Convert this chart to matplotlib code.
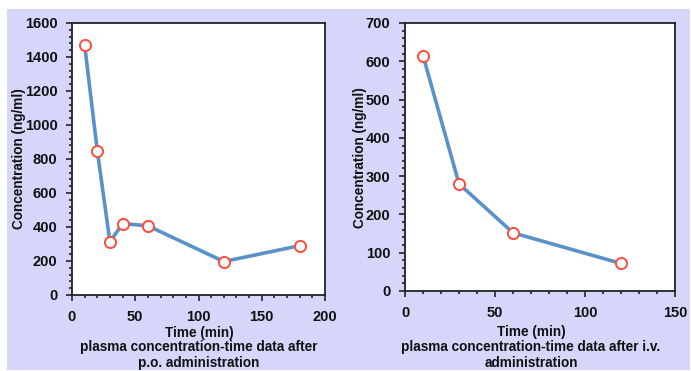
import matplotlib
matplotlib.use("Agg")
import matplotlib.pyplot as plt
from matplotlib.patches import Rectangle
from matplotlib.ticker import MultipleLocator

# Data ------------------------------------------------------------------

po_time = [10, 20, 30, 40, 60, 120, 180]
po_conc = [1470, 848, 312, 420, 407, 197, 290]

iv_time = [10, 30, 60, 120]
iv_conc = [615, 280, 152, 72]

po_caption = "plasma concentration-time data after\np.o. administration"
iv_caption = "plasma concentration-time data after i.v.\nadministration"

# Style -----------------------------------------------------------------

plt.rcParams["font.family"] = ["Liberation Sans", "DejaVu Sans"]
plt.rcParams["font.weight"] = "bold"

W, H = 691, 371
fig = plt.figure(figsize=(W / 100, H / 100), dpi=100)
fig.patch.set_facecolor("white")

# lavender panel behind both plots
fig.add_artist(Rectangle((7 / W, 1 - 370 / H), (690 - 7) / W, (370 - 9) / H,
                         transform=fig.transFigure, facecolor="#d6d6fb",
                         edgecolor="none", zorder=0))

line_color = "#5b91c9"
marker_edge = "#ff4b3c"
fsize = 9.8


def px_axes(l, t, r, b):
    return fig.add_axes([l / W, 1 - b / H, (r - l) / W, (b - t) / H])


def draw_panel(ax, x, y, xmax, xmajor, ymax, ymajor, yminor):
    ax.set_facecolor("white")
    ax.plot(x, y, color=line_color, lw=2.6, zorder=2)
    ax.plot(x, y, ls="none", marker="o", ms=8, mfc="white",
            mec=marker_edge, mew=1.4, zorder=3)
    ax.set_xlim(0, xmax)
    ax.set_ylim(0, ymax)
    ax.xaxis.set_major_locator(MultipleLocator(xmajor))
    ax.xaxis.set_minor_locator(MultipleLocator(10))
    ax.yaxis.set_major_locator(MultipleLocator(ymajor))
    ax.yaxis.set_minor_locator(MultipleLocator(yminor))
    ax.tick_params(which="both", direction="out", color="#222222",
                   width=1.2, labelsize=10.5, labelcolor="#111111")
    ax.tick_params(which="major", length=4.5, pad=6)
    ax.tick_params(which="minor", length=2.5)
    plt.setp(ax.get_xticklabels() + ax.get_yticklabels(), fontweight="bold")
    for s in ax.spines.values():
        s.set_color("#222222")
        s.set_linewidth(1.3)


def label(x, y, txt, rot=0, ls=1.2):
    fig.text(x / W, 1 - y / H, txt, ha="center", va="center", rotation=rot,
             fontsize=fsize, fontweight="bold", color="#111111",
             linespacing=ls)


# p.o. panel
ax1 = px_axes(72, 23, 325, 295)
draw_panel(ax1, po_time, po_conc, 200, 50, 1600, 200, 40)

# i.v. panel
ax2 = px_axes(405, 23, 675, 291)
draw_panel(ax2, iv_time, iv_conc, 150, 50, 700, 100, 20)

# Labels and captions
label(19, 159, "Concentration (ng/ml)", rot=90)
label(360, 158, "Concentration (ng/ml)", rot=90)

label(199, 333, "Time (min)")
label(199, 355, po_caption)
label(531, 332, "Time (min)")
label(531, 355, iv_caption)

fig.savefig("out.png", dpi=100, facecolor=fig.get_facecolor())
